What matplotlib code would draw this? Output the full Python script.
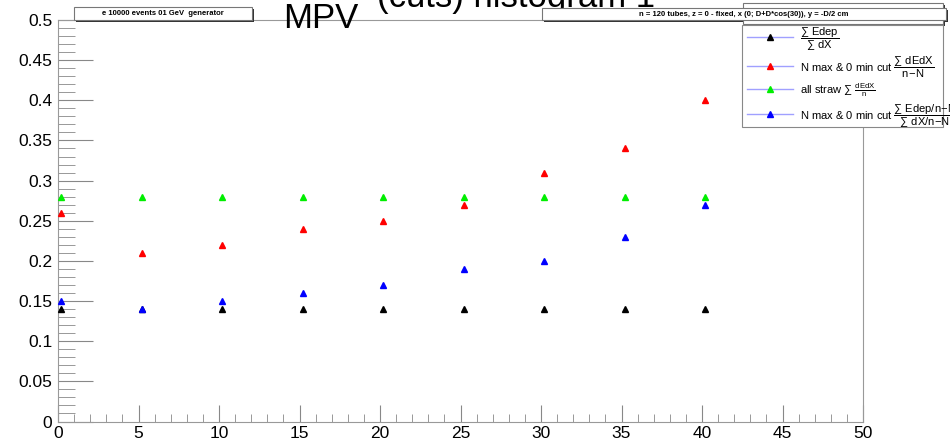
import numpy as np
import matplotlib.pyplot as plt
from matplotlib.lines import Line2D
from matplotlib.patches import Rectangle
from matplotlib.ticker import MultipleLocator

plt.rcParams['font.family'] = ['Liberation Sans', 'DejaVu Sans']
plt.rcParams['mathtext.fontset'] = 'custom'
plt.rcParams['mathtext.rm'] = 'Liberation Sans'
plt.rcParams['mathtext.it'] = 'Liberation Sans'

# data
x = [0.2, 5.2, 10.2, 15.2, 20.2, 25.2, 30.2, 35.2, 40.2]
mpv_edep_dx = [0.14, 0.14, 0.14, 0.14, 0.14, 0.14, 0.14, 0.14, 0.14]
mpv_nmax_dedx = [0.26, 0.21, 0.22, 0.24, 0.25, 0.27, 0.31, 0.34, 0.40]
mpv_all_straw = [0.28, 0.28, 0.28, 0.28, 0.28, 0.28, 0.28, 0.28, 0.28]
mpv_nmax_edep = [0.15, 0.14, 0.15, 0.16, 0.17, 0.19, 0.20, 0.23, 0.27]

series = [
    (mpv_edep_dx, 'black', r'$\dfrac{\sum\ \mathrm{Edep}}{\sum\ \mathrm{dX}}$'),
    (mpv_nmax_dedx, 'red', r'N max & 0 min cut $\dfrac{\sum\ \mathrm{dEdX}}{\mathrm{n\!-\!N}}$'),
    (mpv_all_straw, '#00ee00', r'all straw $\sum\ \frac{\mathrm{dEdX}}{\mathrm{n}}$'),
    (mpv_nmax_edep, 'blue', r'N max & 0 min cut $\dfrac{\sum\ \mathrm{Edep/n\!-\!N}}{\sum\ \mathrm{dX/n\!-\!N}}$'),
]

fig = plt.figure(figsize=(9.5, 4.46), dpi=100)
ax = fig.add_axes([58/950, 1 - 421.5/446, (863 - 58)/950, (421.5 - 20)/446])

handles = []
for vals, col, lab in series:
    ax.plot(x, vals, linestyle='none', marker='^', markersize=4.5,
            color=col, clip_on=False, zorder=3)
    handles.append(Line2D([], [], color='#a0a0ff', lw=1, marker='^',
                          markersize=4.5, markerfacecolor=col,
                          markeredgecolor=col, label=lab))

ax.set_xlim(0, 50)
ax.set_ylim(0, 0.5)
ax.xaxis.set_major_locator(MultipleLocator(5))
ax.xaxis.set_minor_locator(MultipleLocator(1))
ax.yaxis.set_minor_locator(MultipleLocator(0.01))
ax.set_yticks(np.arange(0, 0.501, 0.05))
ax.set_yticklabels(['0', '0.05', '0.1', '0.15', '0.2', '0.25', '0.3',
                    '0.35', '0.4', '0.45', '0.5'])
ax.tick_params(which='both', direction='in', color='#888888', labelsize=12.5,
               top=False, right=False)
ax.tick_params(axis='y', which='major', length=25, pad=4)
ax.tick_params(axis='y', which='minor', length=12)
ax.tick_params(axis='x', which='major', length=12, pad=3)
ax.tick_params(axis='x', which='minor', length=6)
for s in ax.spines.values():
    s.set_color('#999999')

# title, partly cut at the top like in the original canvas
fig.text(283/950, 1 - 28/446, 'MPV', fontsize=25, ha='left', va='baseline')
fig.text(377/950, 1 - 7/446, '(cuts) histogram 1', fontsize=25,
         ha='left', va='baseline')

# text boxes with shadow
def pave(x0, y0, x1, y1, txt):
    w, h = (x1 - x0)/950, (y1 - y0)/446
    fig.patches.append(Rectangle((x0/950 + 2/950, 1 - y1/446 - 2/446), w, h,
                                 transform=fig.transFigure, facecolor='#333333',
                                 edgecolor='none', zorder=4))
    fig.patches.append(Rectangle((x0/950, 1 - y1/446), w, h,
                                 transform=fig.transFigure, facecolor='white',
                                 edgecolor='#777777', lw=0.8, zorder=5))
    if txt:
        fig.text((x0 + x1)/2/950, 1 - (y0 + y1)/2/446, txt, fontsize=5.5,
                 fontweight='bold', ha='center', va='center', zorder=6)

pave(743, 3, 943, 24, '')
pave(74, 7, 252, 20, 'e 10000 events 01 GeV  generator')
pave(542, 8, 946, 20, 'n = 120 tubes, z = 0 - fixed, x (0; D+D*cos(30)), y = -D/2 cm')

# legend frame drawn at its fixed place, entries laid out by the legend
fig.patches.append(Rectangle((742/950, 1 - 127/446), 201/950, 102/446,
                             transform=fig.transFigure, facecolor='white',
                             edgecolor='#888888', lw=0.8, zorder=6))
leg = fig.legend(handles=handles, loc='upper left',
                 bbox_to_anchor=(746/950, 1 - 25/446), frameon=False,
                 fontsize=8, handlelength=4.2, handleheight=2.2,
                 labelspacing=0.15, borderpad=0.07, handletextpad=0.6,
                 borderaxespad=0)
leg.set_zorder(7)

plt.savefig('out.png', dpi=100)
